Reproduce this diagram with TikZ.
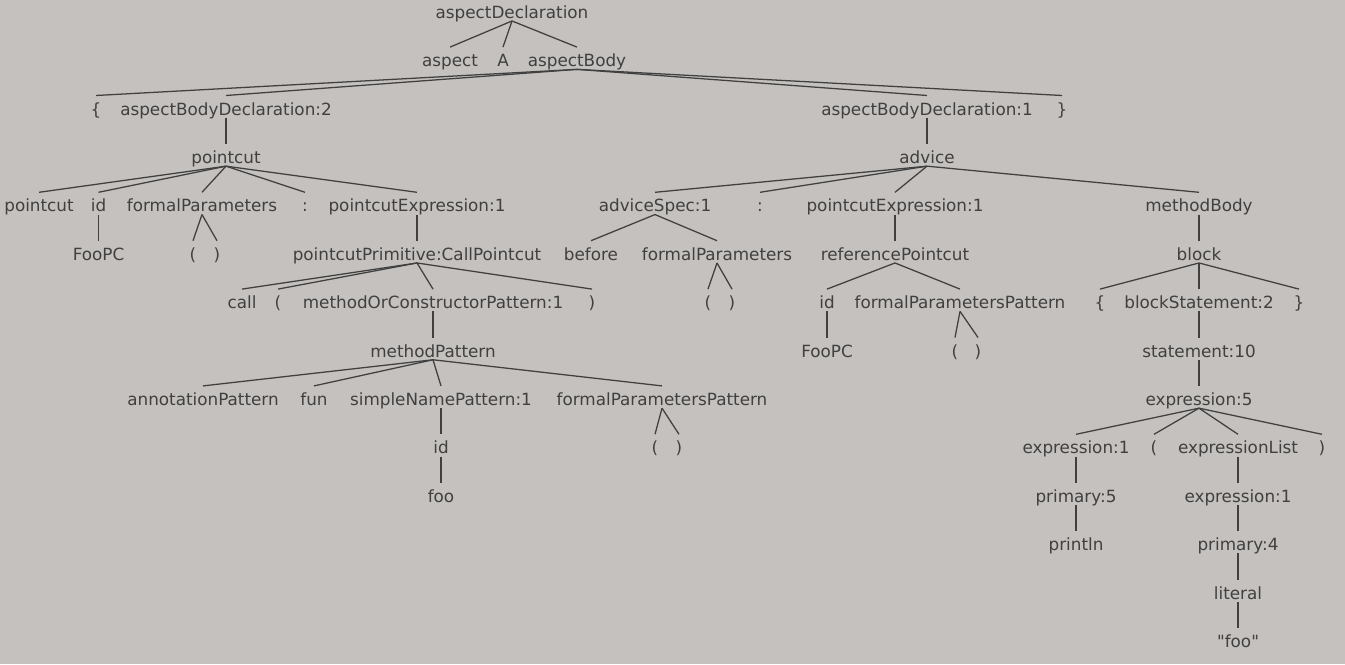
\documentclass[tikz,border=0pt]{standalone}
\usepackage{fontspec}
\setmainfont{DejaVu Sans}[Ligatures=TeXOff]
\definecolor{bgcol}{RGB}{196,193,190}
\definecolor{inkcol}{RGB}{64,64,64}
\usetikzlibrary{positioning}

\begin{document}
\begin{tikzpicture}[
x = 0.75pt,
y = -0.75pt,
every node/.style = {
	font = \fontsize{12.6}{15}\selectfont,
	text = inkcol
},
tok/.style = {
	anchor = base,
	inner sep = 0pt,
	text height = 14.5pt,
	text depth = 1.8pt
},
edge/.style = {
	draw = inkcol,
	line width = 0.95pt
}
]

\fill[bgcol] (0,0) rectangle (1345,664);
\useasboundingbox (0,0) rectangle (1345,664);

% rows 0-3
\node [tok] (ad) at (512,18.3) {aspectDeclaration};
\node [tok] (asp) at (450,66.7) {aspect};
\node [tok] (aname) at (503,66.7) {A};
\node [tok] (abody) at (577,66.7) {aspectBody};
\node [tok] (lbr) at (96,115.1) {\{};
\node [tok] (abd2) at (226,115.1) {aspectBodyDeclaration:2};
\node [tok] (abd1) at (927,115.1) {aspectBodyDeclaration:1};
\node [tok] (rbr) at (1062,115.1) {\}};
\node [tok] (pc) at (226,163.5) {pointcut};
\node [tok] (adv) at (927,163.5) {advice};

% row 4
\node [tok] (pckw) at (39,211.9) {pointcut};
\node [tok] (id1) at (98.5,211.9) {id};
\node [tok] (fp1) at (202,211.9) {formalParameters};
\node [tok] (col1) at (305,211.9) {:};
\node [tok] (pce1) at (417,211.9) {pointcutExpression:1};
\node [tok] (as1) at (655,211.9) {adviceSpec:1};
\node [tok] (col2) at (760,211.9) {:};
\node [tok] (pce2) at (895,211.9) {pointcutExpression:1};
\node [tok] (mb) at (1199,211.9) {methodBody};

% row 5
\node [tok] (foopc1) at (98.5,260.3) {FooPC};
\node [tok] (lp1) at (193,260.3) {(};
\node [tok] (rp1) at (217,260.3) {)};
\node [tok] (pcp) at (417,260.3) {pointcutPrimitive:CallPointcut};
\node [tok] (bef) at (591,260.3) {before};
\node [tok] (fp2) at (717,260.3) {formalParameters};
\node [tok] (rpc) at (895,260.3) {referencePointcut};
\node [tok] (blk) at (1199,260.3) {block};

% row 6
\node [tok] (call) at (242,308.7) {call};
\node [tok] (lp2) at (278,308.7) {(};
\node [tok] (mocp) at (433,308.7) {methodOrConstructorPattern:1};
\node [tok] (rp2) at (592,308.7) {)};
\node [tok] (lp3) at (708,308.7) {(};
\node [tok] (rp3) at (732,308.7) {)};
\node [tok] (id2) at (827,308.7) {id};
\node [tok] (fpp1) at (960,308.7) {formalParametersPattern};
\node [tok] (lbr2) at (1100,308.7) {\{};
\node [tok] (bs2) at (1199,308.7) {blockStatement:2};
\node [tok] (rbr2) at (1299,308.7) {\}};

% row 7
\node [tok] (mp) at (433,357.1) {methodPattern};
\node [tok] (foopc2) at (827,357.1) {FooPC};
\node [tok] (lp4) at (955,357.1) {(};
\node [tok] (rp4) at (978,357.1) {)};
\node [tok] (st10) at (1199,357.1) {statement:10};

% row 8
\node [tok] (anp) at (203,405.5) {annotationPattern};
\node [tok] (fun) at (314,405.5) {fun};
\node [tok] (snp) at (441,405.5) {simpleNamePattern:1};
\node [tok] (fpp2) at (662,405.5) {formalParametersPattern};
\node [tok] (ex5) at (1199,405.5) {expression:5};

% rows 9-13
\node [tok] (id3) at (441,453.9) {id};
\node [tok] (lp5) at (655,453.9) {(};
\node [tok] (rp5) at (679,453.9) {)};
\node [tok] (ex1a) at (1076,453.9) {expression:1};
\node [tok] (lp6) at (1154,453.9) {(};
\node [tok] (exl) at (1238,453.9) {expressionList};
\node [tok] (rp6) at (1322,453.9) {)};
\node [tok] (foo) at (441,502.3) {foo};
\node [tok] (pr5) at (1076,502.3) {primary:5};
\node [tok] (ex1b) at (1238,502.3) {expression:1};
\node [tok] (println) at (1076,550.7) {println};
\node [tok] (pr4) at (1238,550.7) {primary:4};
\node [tok] (lit) at (1238,599.1) {literal};
\node [tok] (foostr) at (1238,647.5) {"foo"};

\foreach \p/\c in {ad/asp, ad/aname, ad/abody,
	abody/lbr, abody/abd2, abody/abd1, abody/rbr,
	abd2/pc, abd1/adv,
	pc/pckw, pc/id1, pc/fp1, pc/col1, pc/pce1,
	id1/foopc1, fp1/lp1, fp1/rp1, pce1/pcp,
	pcp/call, pcp/lp2, pcp/mocp, pcp/rp2, mocp/mp,
	mp/anp, mp/fun, mp/snp, mp/fpp2,
	snp/id3, id3/foo, fpp2/lp5, fpp2/rp5,
	adv/as1, adv/col2, adv/pce2, adv/mb,
	as1/bef, as1/fp2, fp2/lp3, fp2/rp3,
	pce2/rpc, rpc/id2, rpc/fpp1, id2/foopc2, fpp1/lp4, fpp1/rp4,
	mb/blk, blk/lbr2, blk/bs2, blk/rbr2, bs2/st10, st10/ex5,
	ex5/ex1a, ex5/lp6, ex5/exl, ex5/rp6,
	ex1a/pr5, pr5/println, exl/ex1b, ex1b/pr4, pr4/lit, lit/foostr}
	\draw[edge] (\p.south) -- (\c.north);

\end{tikzpicture}
\end{document}
